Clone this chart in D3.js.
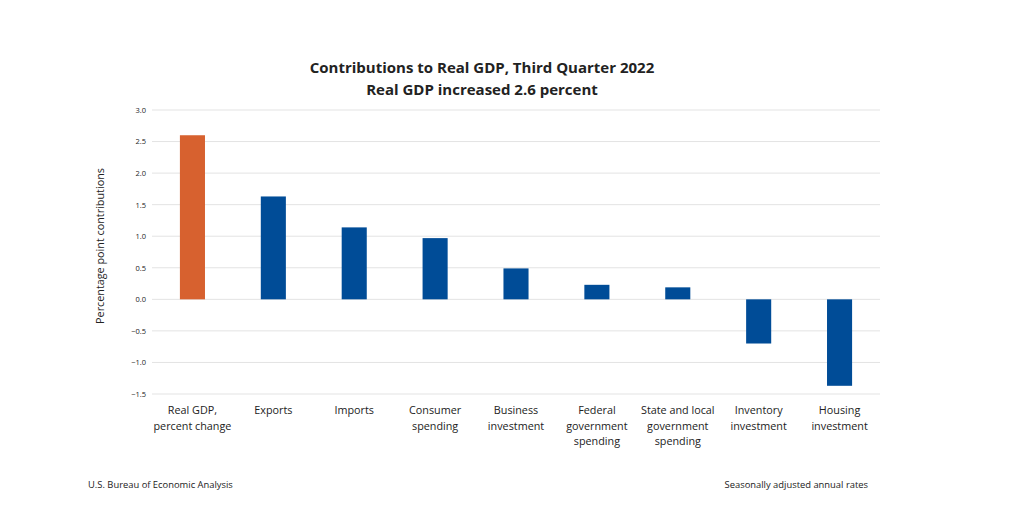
<!DOCTYPE html>
<html><head><meta charset="utf-8">
<script src="https://cdn.jsdelivr.net/npm/d3@7"></script>
<style>body{margin:0;background:#fff}svg{display:block}text{font-family:"Open Sans",sans-serif;fill:#222}</style>
</head><body><svg id="c" width="1021" height="530"></svg>
<script>
const categories = [["Real GDP,","percent change"],["Exports"],["Imports"],["Consumer","spending"],["Business","investment"],["Federal","government","spending"],["State and local","government","spending"],["Inventory","investment"],["Housing","investment"]];
const values = [2.6, 1.63, 1.14, 0.97, 0.49, 0.23, 0.19, -0.70, -1.37];
const tickValues = [3.0, 2.5, 2.0, 1.5, 1.0, 0.5, 0.0, -0.5, -1.0, -1.5];
const titleLines = ["Contributions to Real GDP, Third Quarter 2022", "Real GDP increased 2.6 percent"];

(function () {
const svg = d3.select("#c");
const mLeft = 152, mRight = 880, mTop = 110, mBottom = 394;
const y = d3.scaleLinear().domain([-1.5, 3.0]).range([mBottom, mTop]);
const x = d3.scaleBand().domain(d3.range(values.length)).range([mLeft, mRight]).paddingInner(0.69).paddingOuter(0.345);

// gridlines
svg.append("g").selectAll("line").data(tickValues).join("line")
  .attr("x1", mLeft).attr("x2", mRight)
  .attr("y1", d => y(d)).attr("y2", d => y(d))
  .attr("stroke", "#e3e3e3").attr("stroke-width", 1);

// y tick labels
const yAxis = d3.axisLeft(y).tickValues(tickValues).tickFormat(d3.format(".1f")).tickSize(0).tickPadding(6);
const ga = svg.append("g").attr("transform", `translate(${mLeft},0)`).call(yAxis);
ga.select(".domain").remove();
ga.selectAll("text").style("font-family", '"Open Sans",sans-serif').style("font-size", "7.5px").attr("fill", "#333");

// bars
svg.append("g").selectAll("rect").data(values).join("rect")
  .attr("x", (d, i) => x(i)).attr("width", x.bandwidth())
  .attr("y", d => y(Math.max(0, d))).attr("height", d => Math.abs(y(d) - y(0)))
  .attr("fill", (d, i) => i === 0 ? "#D7612F" : "#004C97");

// category labels
const cl = svg.append("g").selectAll("text").data(categories).join("text")
  .attr("text-anchor", "middle").style("font-size", "10.8px")
  .attr("transform", (d, i) => `translate(${x(i) + x.bandwidth() / 2},414)`);
cl.selectAll("tspan").data(d => d).join("tspan")
  .attr("x", 0).attr("dy", (d, j) => j === 0 ? 0 : 15.5).text(d => d);

// y axis title
svg.append("text").attr("transform", "translate(104,246) rotate(-90)")
  .attr("text-anchor", "middle").style("font-size", "10.8px").text("Percentage point contributions");

// title
svg.append("g").selectAll("text").data(titleLines).join("text")
  .attr("x", 482).attr("y", (d, i) => 73 + i * 22)
  .attr("text-anchor", "middle").style("font-size", "15px").style("font-weight", "bold")
  .attr("fill", "#111").text(d => d);

// footer
svg.append("text").attr("x", 88).attr("y", 488).style("font-size", "9.4px").text("U.S. Bureau of Economic Analysis");
svg.append("text").attr("x", 868).attr("y", 488).attr("text-anchor", "end").style("font-size", "9.4px").text("Seasonally adjusted annual rates");
})();
</script></body></html>
